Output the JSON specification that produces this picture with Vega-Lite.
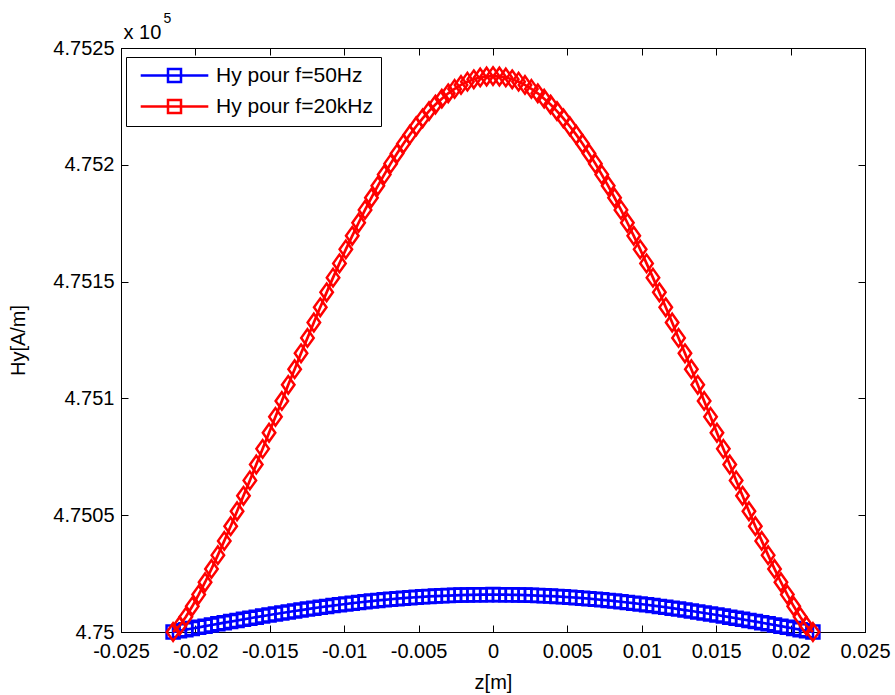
{
"$schema":"https://vega.github.io/schema/vega-lite/v6.json",
"width":744,"height":584,
"autosize":{"type":"none"},
"padding":{"left":121,"top":48,"right":30,"bottom":63},
"background":"white",
"config":{
 "font":"Liberation Sans",
 "view":{"stroke":"black","strokeWidth":1},
 "axis":{"domainColor":"black","domainWidth":1,"tickColor":"black","tickWidth":1,"labelColor":"black","titleColor":"black","labelFontSize":20,"titleFontSize":20,"titleFontWeight":"normal","grid":false,"tickSize":-7,"labelFont":"Liberation Sans","titleFont":"Liberation Sans","labelFlush":false,"labelOverlap":false}
},
"data":{"values":[
{"z":-0.0215,"s":"50Hz","h":4.75},
{"z":-0.02107,"s":"50Hz","h":4.750005},
{"z":-0.02064,"s":"50Hz","h":4.75001},
{"z":-0.02021,"s":"50Hz","h":4.7500151},
{"z":-0.01978,"s":"50Hz","h":4.7500201},
{"z":-0.01935,"s":"50Hz","h":4.750025},
{"z":-0.01892,"s":"50Hz","h":4.75003},
{"z":-0.01849,"s":"50Hz","h":4.7500349},
{"z":-0.01806,"s":"50Hz","h":4.7500398},
{"z":-0.01763,"s":"50Hz","h":4.7500446},
{"z":-0.0172,"s":"50Hz","h":4.7500494},
{"z":-0.01677,"s":"50Hz","h":4.7500542},
{"z":-0.01634,"s":"50Hz","h":4.7500589},
{"z":-0.01591,"s":"50Hz","h":4.7500635},
{"z":-0.01548,"s":"50Hz","h":4.7500681},
{"z":-0.01505,"s":"50Hz","h":4.7500726},
{"z":-0.01462,"s":"50Hz","h":4.7500771},
{"z":-0.01419,"s":"50Hz","h":4.7500814},
{"z":-0.01376,"s":"50Hz","h":4.7500857},
{"z":-0.01333,"s":"50Hz","h":4.7500899},
{"z":-0.0129,"s":"50Hz","h":4.750094},
{"z":-0.01247,"s":"50Hz","h":4.7500981},
{"z":-0.01204,"s":"50Hz","h":4.750102},
{"z":-0.01161,"s":"50Hz","h":4.7501058},
{"z":-0.01118,"s":"50Hz","h":4.7501095},
{"z":-0.01075,"s":"50Hz","h":4.7501131},
{"z":-0.01032,"s":"50Hz","h":4.7501166},
{"z":-0.00989,"s":"50Hz","h":4.75012},
{"z":-0.00946,"s":"50Hz","h":4.7501233},
{"z":-0.00903,"s":"50Hz","h":4.7501264},
{"z":-0.0086,"s":"50Hz","h":4.7501294},
{"z":-0.00817,"s":"50Hz","h":4.7501323},
{"z":-0.00774,"s":"50Hz","h":4.7501351},
{"z":-0.00731,"s":"50Hz","h":4.7501377},
{"z":-0.00688,"s":"50Hz","h":4.7501402},
{"z":-0.00645,"s":"50Hz","h":4.7501426},
{"z":-0.00602,"s":"50Hz","h":4.7501448},
{"z":-0.00559,"s":"50Hz","h":4.7501468},
{"z":-0.00516,"s":"50Hz","h":4.7501488},
{"z":-0.00473,"s":"50Hz","h":4.7501505},
{"z":-0.0043,"s":"50Hz","h":4.7501522},
{"z":-0.00387,"s":"50Hz","h":4.7501536},
{"z":-0.00344,"s":"50Hz","h":4.750155},
{"z":-0.00301,"s":"50Hz","h":4.7501561},
{"z":-0.00258,"s":"50Hz","h":4.7501572},
{"z":-0.00215,"s":"50Hz","h":4.750158},
{"z":-0.00172,"s":"50Hz","h":4.7501587},
{"z":-0.00129,"s":"50Hz","h":4.7501593},
{"z":-0.00086,"s":"50Hz","h":4.7501597},
{"z":-0.00043,"s":"50Hz","h":4.7501599},
{"z":0,"s":"50Hz","h":4.75016},
{"z":0.00043,"s":"50Hz","h":4.7501599},
{"z":0.00086,"s":"50Hz","h":4.7501597},
{"z":0.00129,"s":"50Hz","h":4.7501593},
{"z":0.00172,"s":"50Hz","h":4.7501587},
{"z":0.00215,"s":"50Hz","h":4.750158},
{"z":0.00258,"s":"50Hz","h":4.7501572},
{"z":0.00301,"s":"50Hz","h":4.7501561},
{"z":0.00344,"s":"50Hz","h":4.750155},
{"z":0.00387,"s":"50Hz","h":4.7501536},
{"z":0.0043,"s":"50Hz","h":4.7501522},
{"z":0.00473,"s":"50Hz","h":4.7501505},
{"z":0.00516,"s":"50Hz","h":4.7501488},
{"z":0.00559,"s":"50Hz","h":4.7501468},
{"z":0.00602,"s":"50Hz","h":4.7501448},
{"z":0.00645,"s":"50Hz","h":4.7501426},
{"z":0.00688,"s":"50Hz","h":4.7501402},
{"z":0.00731,"s":"50Hz","h":4.7501377},
{"z":0.00774,"s":"50Hz","h":4.7501351},
{"z":0.00817,"s":"50Hz","h":4.7501323},
{"z":0.0086,"s":"50Hz","h":4.7501294},
{"z":0.00903,"s":"50Hz","h":4.7501264},
{"z":0.00946,"s":"50Hz","h":4.7501233},
{"z":0.00989,"s":"50Hz","h":4.75012},
{"z":0.01032,"s":"50Hz","h":4.7501166},
{"z":0.01075,"s":"50Hz","h":4.7501131},
{"z":0.01118,"s":"50Hz","h":4.7501095},
{"z":0.01161,"s":"50Hz","h":4.7501058},
{"z":0.01204,"s":"50Hz","h":4.750102},
{"z":0.01247,"s":"50Hz","h":4.7500981},
{"z":0.0129,"s":"50Hz","h":4.750094},
{"z":0.01333,"s":"50Hz","h":4.7500899},
{"z":0.01376,"s":"50Hz","h":4.7500857},
{"z":0.01419,"s":"50Hz","h":4.7500814},
{"z":0.01462,"s":"50Hz","h":4.7500771},
{"z":0.01505,"s":"50Hz","h":4.7500726},
{"z":0.01548,"s":"50Hz","h":4.7500681},
{"z":0.01591,"s":"50Hz","h":4.7500635},
{"z":0.01634,"s":"50Hz","h":4.7500589},
{"z":0.01677,"s":"50Hz","h":4.7500542},
{"z":0.0172,"s":"50Hz","h":4.7500494},
{"z":0.01763,"s":"50Hz","h":4.7500446},
{"z":0.01806,"s":"50Hz","h":4.7500398},
{"z":0.01849,"s":"50Hz","h":4.7500349},
{"z":0.01892,"s":"50Hz","h":4.75003},
{"z":0.01935,"s":"50Hz","h":4.750025},
{"z":0.01978,"s":"50Hz","h":4.7500201},
{"z":0.02021,"s":"50Hz","h":4.7500151},
{"z":0.02064,"s":"50Hz","h":4.75001},
{"z":0.02107,"s":"50Hz","h":4.750005},
{"z":0.0215,"s":"50Hz","h":4.75},
{"z":-0.0215,"s":"20kHz","h":4.75},
{"z":-0.02107,"s":"20kHz","h":4.750026},
{"z":-0.02064,"s":"20kHz","h":4.750065},
{"z":-0.02021,"s":"20kHz","h":4.75011},
{"z":-0.01978,"s":"20kHz","h":4.75016},
{"z":-0.01935,"s":"20kHz","h":4.750213},
{"z":-0.01892,"s":"20kHz","h":4.75027},
{"z":-0.01849,"s":"20kHz","h":4.750329},
{"z":-0.01806,"s":"20kHz","h":4.75039},
{"z":-0.01763,"s":"20kHz","h":4.750453},
{"z":-0.0172,"s":"20kHz","h":4.750517},
{"z":-0.01677,"s":"20kHz","h":4.750583},
{"z":-0.01634,"s":"20kHz","h":4.750649},
{"z":-0.01591,"s":"20kHz","h":4.750717},
{"z":-0.01548,"s":"20kHz","h":4.750784},
{"z":-0.01505,"s":"20kHz","h":4.750853},
{"z":-0.01462,"s":"20kHz","h":4.750921},
{"z":-0.01419,"s":"20kHz","h":4.750989},
{"z":-0.01376,"s":"20kHz","h":4.751058},
{"z":-0.01333,"s":"20kHz","h":4.751125},
{"z":-0.0129,"s":"20kHz","h":4.751193},
{"z":-0.01247,"s":"20kHz","h":4.751259},
{"z":-0.01204,"s":"20kHz","h":4.751325},
{"z":-0.01161,"s":"20kHz","h":4.75139},
{"z":-0.01118,"s":"20kHz","h":4.751454},
{"z":-0.01075,"s":"20kHz","h":4.751517},
{"z":-0.01032,"s":"20kHz","h":4.751578},
{"z":-0.00989,"s":"20kHz","h":4.751638},
{"z":-0.00946,"s":"20kHz","h":4.751696},
{"z":-0.00903,"s":"20kHz","h":4.751752},
{"z":-0.0086,"s":"20kHz","h":4.751807},
{"z":-0.00817,"s":"20kHz","h":4.751859},
{"z":-0.00774,"s":"20kHz","h":4.75191},
{"z":-0.00731,"s":"20kHz","h":4.751958},
{"z":-0.00688,"s":"20kHz","h":4.752005},
{"z":-0.00645,"s":"20kHz","h":4.752048},
{"z":-0.00602,"s":"20kHz","h":4.75209},
{"z":-0.00559,"s":"20kHz","h":4.752129},
{"z":-0.00516,"s":"20kHz","h":4.752165},
{"z":-0.00473,"s":"20kHz","h":4.752199},
{"z":-0.0043,"s":"20kHz","h":4.75223},
{"z":-0.00387,"s":"20kHz","h":4.752258},
{"z":-0.00344,"s":"20kHz","h":4.752283},
{"z":-0.00301,"s":"20kHz","h":4.752306},
{"z":-0.00258,"s":"20kHz","h":4.752325},
{"z":-0.00215,"s":"20kHz","h":4.752342},
{"z":-0.00172,"s":"20kHz","h":4.752356},
{"z":-0.00129,"s":"20kHz","h":4.752366},
{"z":-0.00086,"s":"20kHz","h":4.752374},
{"z":-0.00043,"s":"20kHz","h":4.752378},
{"z":0,"s":"20kHz","h":4.75238},
{"z":0.00043,"s":"20kHz","h":4.752378},
{"z":0.00086,"s":"20kHz","h":4.752374},
{"z":0.00129,"s":"20kHz","h":4.752366},
{"z":0.00172,"s":"20kHz","h":4.752356},
{"z":0.00215,"s":"20kHz","h":4.752342},
{"z":0.00258,"s":"20kHz","h":4.752325},
{"z":0.00301,"s":"20kHz","h":4.752306},
{"z":0.00344,"s":"20kHz","h":4.752283},
{"z":0.00387,"s":"20kHz","h":4.752258},
{"z":0.0043,"s":"20kHz","h":4.75223},
{"z":0.00473,"s":"20kHz","h":4.752199},
{"z":0.00516,"s":"20kHz","h":4.752165},
{"z":0.00559,"s":"20kHz","h":4.752129},
{"z":0.00602,"s":"20kHz","h":4.75209},
{"z":0.00645,"s":"20kHz","h":4.752048},
{"z":0.00688,"s":"20kHz","h":4.752005},
{"z":0.00731,"s":"20kHz","h":4.751958},
{"z":0.00774,"s":"20kHz","h":4.75191},
{"z":0.00817,"s":"20kHz","h":4.751859},
{"z":0.0086,"s":"20kHz","h":4.751807},
{"z":0.00903,"s":"20kHz","h":4.751752},
{"z":0.00946,"s":"20kHz","h":4.751696},
{"z":0.00989,"s":"20kHz","h":4.751638},
{"z":0.01032,"s":"20kHz","h":4.751578},
{"z":0.01075,"s":"20kHz","h":4.751517},
{"z":0.01118,"s":"20kHz","h":4.751454},
{"z":0.01161,"s":"20kHz","h":4.75139},
{"z":0.01204,"s":"20kHz","h":4.751325},
{"z":0.01247,"s":"20kHz","h":4.751259},
{"z":0.0129,"s":"20kHz","h":4.751193},
{"z":0.01333,"s":"20kHz","h":4.751125},
{"z":0.01376,"s":"20kHz","h":4.751058},
{"z":0.01419,"s":"20kHz","h":4.750989},
{"z":0.01462,"s":"20kHz","h":4.750921},
{"z":0.01505,"s":"20kHz","h":4.750853},
{"z":0.01548,"s":"20kHz","h":4.750784},
{"z":0.01591,"s":"20kHz","h":4.750717},
{"z":0.01634,"s":"20kHz","h":4.750649},
{"z":0.01677,"s":"20kHz","h":4.750583},
{"z":0.0172,"s":"20kHz","h":4.750517},
{"z":0.01763,"s":"20kHz","h":4.750453},
{"z":0.01806,"s":"20kHz","h":4.75039},
{"z":0.01849,"s":"20kHz","h":4.750329},
{"z":0.01892,"s":"20kHz","h":4.75027},
{"z":0.01935,"s":"20kHz","h":4.750213},
{"z":0.01978,"s":"20kHz","h":4.75016},
{"z":0.02021,"s":"20kHz","h":4.75011},
{"z":0.02064,"s":"20kHz","h":4.750065},
{"z":0.02107,"s":"20kHz","h":4.750026},
{"z":0.0215,"s":"20kHz","h":4.75}
]},
"layer":[
 {"transform":[{"filter":"datum.s === '50Hz'"}],
  "mark":{"type":"line","strokeWidth":2.7},
  "encoding":{
   "x":{"field":"z","type":"quantitative","scale":{"domain":[-0.025,0.025],"nice":false,"zero":false},
        "axis":{"orient":"bottom","values":[-0.025,-0.02,-0.015,-0.01,-0.005,0,0.005,0.01,0.015,0.02,0.025],"labelExpr":"'' + datum.value","labelPadding":16,"title":"z[m]","titlePadding":11}},
   "y":{"field":"h","type":"quantitative","scale":{"domain":[4.75,4.7525],"nice":false,"zero":false},
        "axis":{"orient":"left","values":[4.75,4.7505,4.751,4.7515,4.752,4.7525],"labelExpr":"'' + datum.value","labelPadding":14,"title":"Hy[A/m]","titlePadding":24}},
   "color":{"field":"s","type":"nominal","scale":{"domain":["50Hz","20kHz"],"range":["#0000ff","#ff0000"]}}
  }},
 {"transform":[{"filter":"datum.s === '50Hz'"}],
  "mark":{"type":"point","shape":"square","filled":false,"strokeWidth":2.5,"opacity":1,"size":169},
  "encoding":{
   "x":{"field":"z","type":"quantitative","axis":{"orient":"top","values":[-0.025,-0.02,-0.015,-0.01,-0.005,0,0.005,0.01,0.015,0.02,0.025],"labels":false,"title":"5","titleX":42,"titleY":-26,"titleAlign":"left","titleBaseline":"alphabetic","titleFontSize":14,"titleAngle":0}},
   "y":{"field":"h","type":"quantitative","axis":{"orient":"right","values":[4.75,4.7505,4.751,4.7515,4.752,4.7525],"labels":false,"title":"x 10","titleX":-742,"titleY":-10,"titleAlign":"left","titleBaseline":"alphabetic","titleAngle":0,"titleFontSize":20}},
   "color":{"field":"s","type":"nominal","scale":{"domain":["50Hz","20kHz"],"range":["#0000ff","#ff0000"]},
     "legend":{"orient":"none","legendX":5,"legendY":9,"title":null,"fillColor":"white","strokeColor":"black","padding":8,"cornerRadius":0,
       "labelFontSize":21,"labelFont":"Liberation Sans","labelColor":"black","labelExpr":"'Hy pour f=' + datum.label",
       "symbolType":"M-5.2,0H5.2M-1,-1H1V1H-1Z","symbolSize":169,"symbolStrokeWidth":2.5,"symbolFillColor":"transparent","symbolOffset":30,"labelOffset":31,"rowPadding":8}}
  }},
 {"transform":[{"filter":"datum.s === '20kHz'"}],
  "mark":{"type":"line","strokeWidth":2.7},
  "encoding":{
   "x":{"field":"z","type":"quantitative","axis":null},
   "y":{"field":"h","type":"quantitative","axis":null},
   "color":{"field":"s","type":"nominal"}
  }},
 {"transform":[{"filter":"datum.s === '20kHz'"}],
  "mark":{"type":"point","shape":"M0,-1L0.714,0L0,1L-0.714,0Z","filled":false,"strokeWidth":2.5,"opacity":1,"size":306},
  "encoding":{
   "x":{"field":"z","type":"quantitative","axis":null},
   "y":{"field":"h","type":"quantitative","axis":null},
   "color":{"field":"s","type":"nominal"}
  }}
],
"resolve":{"axis":{"x":"independent","y":"independent"}}
}
